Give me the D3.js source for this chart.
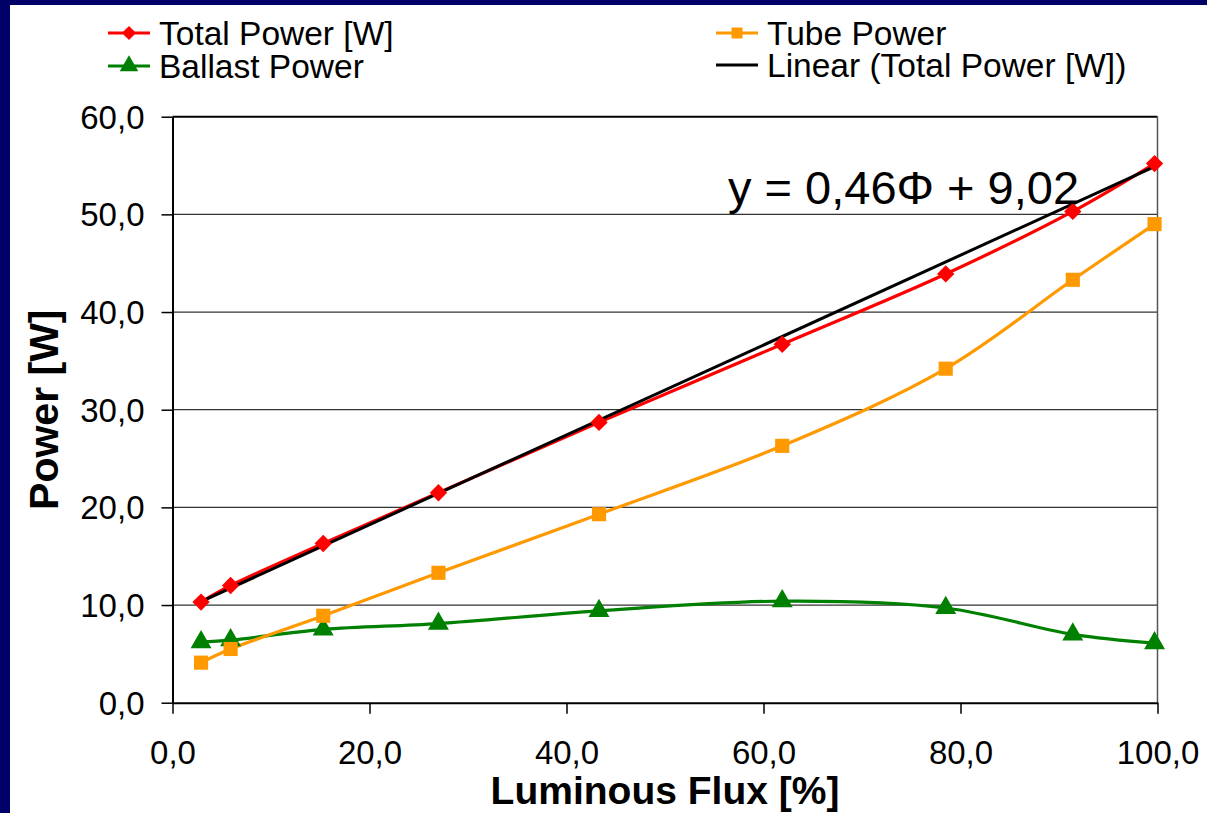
<!DOCTYPE html>
<html><head><meta charset="utf-8">
<script src="https://cdn.jsdelivr.net/npm/d3@7"></script>
<style>
html,body{margin:0;padding:0;background:#fff;}
svg{display:block;}
text{font-family:Arial,"Liberation Sans",sans-serif;}
</style></head>
<body>
<svg id="chart" width="1218" height="813"></svg>
<script>
// ---- data ----
const flux    = [2.9, 5.9, 15.3, 27.0, 43.3, 61.9, 78.5, 91.4, 99.7];
const total   = [10.3, 12.0, 16.3, 21.5, 28.7, 36.7, 43.9, 50.3, 55.2];
const tube    = [4.1, 5.5, 8.9, 13.3, 19.3, 26.3, 34.2, 43.3, 49.0];
const ballast = [6.2, 6.4, 7.5, 8.1, 9.4, 10.4, 9.7, 7.0, 6.1];
const trendSlope = [0.46];
const trendIntercept = [9.02];
const xTicks = [0, 20, 40, 60, 80, 100];
const yTicks = [0, 10, 20, 30, 40, 50, 60];
const seriesNames = ["Total Power [W]", "Tube Power", "Ballast Power", "Linear (Total Power [W])"];

const fmt = v => d3.format(".1f")(v).replace(".", ",");

const svg = d3.select("#chart");
// frame
svg.append("rect").attr("x",0).attr("y",0).attr("width",1207).attr("height",813).attr("fill","#000066");
svg.append("rect").attr("x",10).attr("y",5).attr("width",1208).attr("height",808).attr("fill","#fff");

const L = 172.5, R = 1157.5, T = 116.7, B = 702.7;
const x = d3.scaleLinear().domain([0,100]).range([L,R]);
const y = d3.scaleLinear().domain([0,60]).range([B,T]);

// gridlines
svg.append("g").selectAll("line").data(yTicks.filter(v=>v>0)).join("line")
  .attr("x1",L).attr("x2",R).attr("y1",d=>y(d)).attr("y2",d=>y(d))
  .attr("stroke", d=> d===60 ? "#000" : "#333").attr("stroke-width", d=> d===60 ? 2 : 1.2);
// right border
svg.append("line").attr("x1",R).attr("x2",R).attr("y1",T).attr("y2",B).attr("stroke","#555").attr("stroke-width",1.5);

// axes
const xAxis = d3.axisBottom(x).tickValues(xTicks).tickFormat(fmt).tickSize(11).tickSizeOuter(0);
const yAxis = d3.axisLeft(y).tickValues(yTicks).tickFormat(fmt).tickSize(11).tickSizeOuter(0);
const gx = svg.append("g").attr("transform",`translate(0,${B})`).call(xAxis);
const gy = svg.append("g").attr("transform",`translate(${L},0)`).call(yAxis);
[gx,gy].forEach(g=>{
  g.select(".domain").attr("stroke","#000").attr("stroke-width",2);
  g.selectAll(".tick line").attr("stroke","#000").attr("stroke-width",1.5);
  g.selectAll(".tick text").attr("fill","#000").attr("font-size",33)
   .attr("font-family",'Arial,"Liberation Sans",sans-serif');
});
gx.selectAll(".tick text").attr("dy",null).attr("y",61);
gy.selectAll(".tick text").attr("x",-28).attr("dy","0.35em");

// axis titles
svg.append("text").attr("x",(L+R)/2).attr("y",804).attr("text-anchor","middle")
  .attr("font-size",39).attr("font-weight","bold").text("Luminous Flux [%]");
svg.append("text").attr("transform",`translate(58,${(T+B)/2}) rotate(-90)`).attr("text-anchor","middle")
  .attr("font-size",41).attr("font-weight","bold").text("Power [W]");

const curve = d3.curveCatmullRom.alpha(0.5);
const line = vals => d3.line().x((d,i)=>x(flux[i])).y(d=>y(d)).curve(curve)(vals);

const tx = d3.extent(flux);
const series = [
  {vals: ballast, color:"#008000", sym: d3.symbolTriangle, size: 190, rot: 0},
  {vals: tube, color:"#ff9900", sym: d3.symbolSquare, size: 200, rot: 0},
  {vals: total, color:"#ff0000", sym: d3.symbolSquare, size: 150, rot: 45},
];
series.forEach(s=>{
  svg.append("path").attr("d", line(s.vals)).attr("fill","none").attr("stroke",s.color).attr("stroke-width",3.2);
});
// trend line
svg.append("line").attr("x1",x(tx[0])).attr("y1",y(trendSlope[0]*tx[0]+trendIntercept[0]))
  .attr("x2",x(tx[1])).attr("y2",y(trendSlope[0]*tx[1]+trendIntercept[0]))
  .attr("stroke","#000").attr("stroke-width",3);
series.forEach(s=>{
  svg.append("g").selectAll("path").data(s.vals).join("path")
    .attr("transform",(d,i)=>`translate(${x(flux[i])},${y(d)}) rotate(${s.rot})`)
    .attr("d", d3.symbol().type(s.sym).size(s.size)()).attr("fill",s.color);
});

// equation
svg.append("text").attr("x",728).attr("y",204).attr("font-size",47)
  .text(`y = ${String(trendSlope[0]).replace(".",",")}Φ + ${String(trendIntercept[0]).replace(".",",")}`);

// legend
const leg = [
  {name: seriesNames[0], color:"#ff0000", sym:d3.symbolSquare, size:100, rot:45, lx:108, ly:33},
  {name: seriesNames[2], color:"#008000", sym:d3.symbolTriangle, size:150, rot:0, lx:108, ly:66},
  {name: seriesNames[1], color:"#ff9900", sym:d3.symbolSquare, size:120, rot:0, lx:716, ly:33},
  {name: seriesNames[3], color:"#000", sym:null, size:0, rot:0, lx:716, ly:65},
];
leg.forEach(l=>{
  svg.append("line").attr("x1",l.lx).attr("x2",l.lx+42).attr("y1",l.ly).attr("y2",l.ly)
    .attr("stroke",l.color).attr("stroke-width",3.2);
  if(l.sym) svg.append("path").attr("transform",`translate(${l.lx+21},${l.ly}) rotate(${l.rot})`)
    .attr("d",d3.symbol().type(l.sym).size(l.size)()).attr("fill",l.color);
  svg.append("text").attr("x",l.lx+51).attr("y",l.ly).attr("dy","0.35em").attr("font-size",33.5).text(l.name);
});
</script>
</body></html>
